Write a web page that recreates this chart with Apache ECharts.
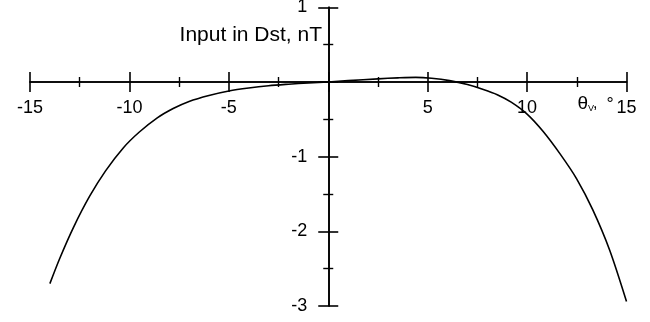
<!DOCTYPE html>
<html>
<head>
<meta charset="utf-8">
<script src="https://cdn.jsdelivr.net/npm/echarts@6/dist/echarts.min.js"></script>
<style>
  html, body { margin: 0; padding: 0; background: #fff; }
  #main { width: 650px; height: 322px; }
</style>
</head>
<body>
<div id="main"></div>
<script>
// Werte
var thetaV = [-14.0, -13.5, -12.8, -12.0, -11.2, -10.3, -9.5, -8.6, -7.8, -7.0, -6.0, -5.0, -4.0, -3.0, -2.0, -1.0, 0,
  1.0, 2.5, 3.5, 4.4, 5.2, 6.1, 7.0, 7.8, 8.5, 9.2, 10.0, 10.8, 11.65, 12.5, 13.3, 14.15, 15.0];
var dstInput = [-2.70, -2.36, -1.94, -1.53, -1.19, -0.88, -0.67, -0.48, -0.355, -0.26, -0.18, -0.12, -0.08, -0.05, -0.03, -0.013, 0,
  0.018, 0.042, 0.055, 0.062, 0.05, 0.018, -0.035, -0.10, -0.17, -0.27, -0.43, -0.66, -0.96, -1.30, -1.71, -2.25, -2.94];

var xTicks = { min: -15, max: 15, step: 5 };
var yTicks = { min: -3, max: 1, step: 1 };

var font = 'Liberation Sans, Arial, Helvetica, sans-serif';
var black = '#000';

var myChart = echarts.init(document.getElementById('main'));

function hideZero(v) { return v === 0 ? '' : String(v); }

// zwei Achsen je Richtung: Ticks nach innen und nach aussen
function xAxisDef(inside, showLabel) {
  return {
    type: 'value',
    position: 'bottom',
    min: xTicks.min,
    max: xTicks.max,
    interval: xTicks.step,
    axisLine: { show: true, onZero: false, lineStyle: { color: black, width: 1.6 } },
    axisTick: { show: true, inside: inside, length: 10, lineStyle: { color: black, width: 1.6 } },
    minorTick: { show: true, splitNumber: 2, length: 5, lineStyle: { color: black, width: 1.4 } },
    axisLabel: { show: showLabel, formatter: hideZero, margin: 17, color: black, fontSize: 18, fontFamily: font },
    splitLine: { show: false },
    minorSplitLine: { show: false }
  };
}

function yAxisDef(inside, showLabel) {
  return {
    type: 'value',
    position: 'left',
    min: yTicks.min,
    max: yTicks.max,
    interval: yTicks.step,
    axisLine: { show: true, onZero: false, lineStyle: { color: black, width: 1.6 } },
    axisTick: { show: true, inside: inside, length: 10, lineStyle: { color: black, width: 1.6 } },
    minorTick: { show: true, splitNumber: 2, length: 5, lineStyle: { color: black, width: 1.4 } },
    axisLabel: { show: showLabel, formatter: hideZero, margin: 21, color: black, fontSize: 18, fontFamily: font },
    splitLine: { show: false },
    minorSplitLine: { show: false }
  };
}

var points = thetaV.map(function (x, i) { return [x, dstInput[i]]; });

var option = {
  animation: false,
  backgroundColor: '#fff',
  grid: { left: 30, right: 23.5, top: 7.3, bottom: 16, containLabel: false, outerBoundsMode: 'none' },
  xAxis: [xAxisDef(false, true), xAxisDef(true, false)],
  yAxis: [yAxisDef(false, true), yAxisDef(true, false)],
  graphic: [
    { type: 'text', x: 322, y: 35, style: { text: 'Input in Dst, nT', align: 'right', verticalAlign: 'middle', fill: black, fontSize: 21, fontFamily: font } },
    { type: 'text', x: 577.5, y: 103.5, style: { text: 'θ', align: 'left', verticalAlign: 'middle', fill: black, fontSize: 19, fontFamily: font } },
    { type: 'text', x: 588, y: 108.5, style: { text: 'V', align: 'left', verticalAlign: 'middle', fill: black, fontSize: 9, fontFamily: font } },
    { type: 'text', x: 593, y: 104, style: { text: ',', align: 'left', verticalAlign: 'middle', fill: black, fontSize: 16, fontFamily: font } },
    { type: 'text', x: 606.5, y: 105, style: { text: '°', align: 'left', verticalAlign: 'middle', fill: black, fontSize: 18, fontFamily: font } }
  ],
  series: [
    {
      type: 'line',
      xAxisIndex: 0,
      yAxisIndex: 0,
      data: points,
      smooth: 0.3,
      symbol: 'none',
      lineStyle: { color: black, width: 1.6 }
    }
  ]
};

myChart.setOption(option);

// Achsen durch den Nullpunkt legen, Position ueber die Skalen bestimmt
var zeroY = myChart.convertToPixel({ yAxisIndex: 0 }, 0);
var bottomY = myChart.convertToPixel({ yAxisIndex: 0 }, yTicks.min);
var zeroX = myChart.convertToPixel({ xAxisIndex: 0 }, 0);
var leftX = myChart.convertToPixel({ xAxisIndex: 0 }, xTicks.min);
var xOff = zeroY - bottomY;
var yOff = leftX - zeroX;

myChart.setOption({
  xAxis: [{ offset: xOff }, { offset: xOff }],
  yAxis: [{ offset: yOff }, { offset: yOff }]
});
</script>
</body>
</html>
